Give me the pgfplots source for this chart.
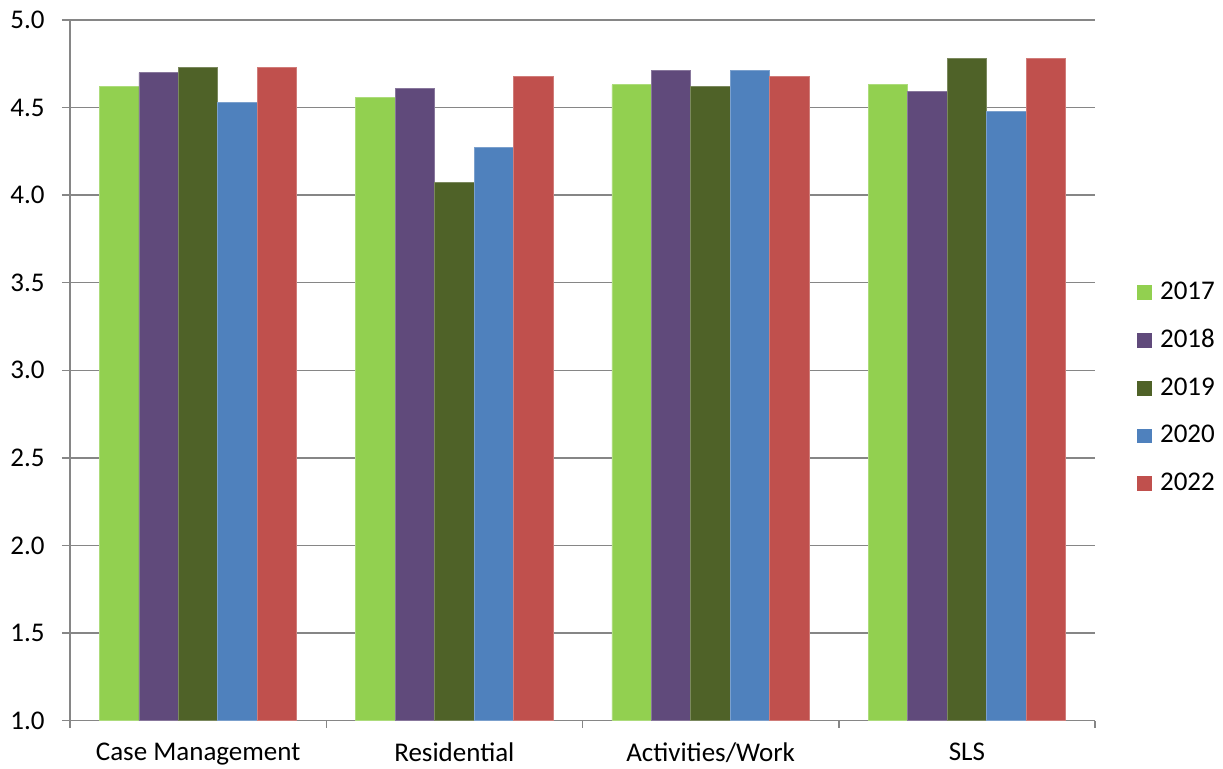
\documentclass[border=0pt]{standalone}
\usepackage{pgfplots}
\pgfplotsset{compat=1.18}
\usepackage{fontspec}
\setmainfont{Carlito}

\definecolor{c2017}{RGB}{146,208,80}
\definecolor{c2018}{RGB}{96,74,123}
\definecolor{c2019}{RGB}{79,98,40}
\definecolor{c2020}{RGB}{79,129,189}
\definecolor{c2022}{RGB}{192,80,77}
\definecolor{axgray}{RGB}{134,134,134}

\begin{document}
\fontsize{13.5}{16}\selectfont
\begin{tikzpicture}
\useasboundingbox (0,0) rectangle (611.5pt,384pt);
\begin{axis}[
  at={(35pt,23.75pt)}, anchor=south west,
  scale only axis,
  width=512.5pt, height=350.25pt,
  ybar=0pt, bar width=0.154,
  xmin=-0.5, xmax=3.5,
  ymin=1, ymax=5,
  ytick={1,1.5,...,5},
  yticklabel style={/pgf/number format/fixed,/pgf/number format/precision=1,/pgf/number format/fixed zerofill},
  /pgf/number format/assume math mode=true,
  xtick={0,1,2,3},
  xticklabels={Case Management,Residential,Activities/Work,SLS},
  major x tick style={draw=none},
  extra x ticks={-0.5,0.5,1.5,2.5,3.5},
  extra x tick labels={},
  extra x tick style={grid=none, major tick length=3.5pt, major x tick style={draw=axgray, line width=0.75pt}},
  axis x line*=bottom, axis y line*=left,
  axis line style={draw=axgray, line width=0.75pt},
  tick align=outside,
  major tick length=4pt,
  tick style={draw=axgray, line width=0.75pt},
  ymajorgrids,
  grid style={draw=axgray, line width=0.75pt},
  xticklabel style={yshift=-2.5pt},
  yticklabel style={xshift=-4pt},
  tick label style={font=\fontsize{13.5}{16}\selectfont},
  legend style={draw=none, fill=none, at={(1.035,0.4747)}, anchor=west,
    font=\fontsize{13.5}{16}\selectfont, row sep=11pt,
    nodes={inner sep=1pt}},
  legend cell align=left,
  legend image code/.code={\fill[#1, draw=none] (0pt,-3.7pt) rectangle (7.4pt,3.7pt);
    \path[draw=none, fill=none] (0pt,0pt) -- (10.4pt,0pt);},
  every axis plot/.append style={line width=0.4pt},
]
\addplot[fill=c2017, draw=c2017!75!white] coordinates {(0,4.62) (1,4.56) (2,4.63) (3,4.63)};
\addplot[fill=c2018, draw=c2018!75!white] coordinates {(0,4.70) (1,4.61) (2,4.71) (3,4.59)};
\addplot[fill=c2019, draw=c2019!75!white] coordinates {(0,4.73) (1,4.07) (2,4.62) (3,4.78)};
\addplot[fill=c2020, draw=c2020!75!white] coordinates {(0,4.53) (1,4.27) (2,4.71) (3,4.48)};
\addplot[fill=c2022, draw=c2022!75!white] coordinates {(0,4.73) (1,4.68) (2,4.68) (3,4.78)};
\legend{2017,2018,2019,2020,2022}
\end{axis}
\end{tikzpicture}
\end{document}
